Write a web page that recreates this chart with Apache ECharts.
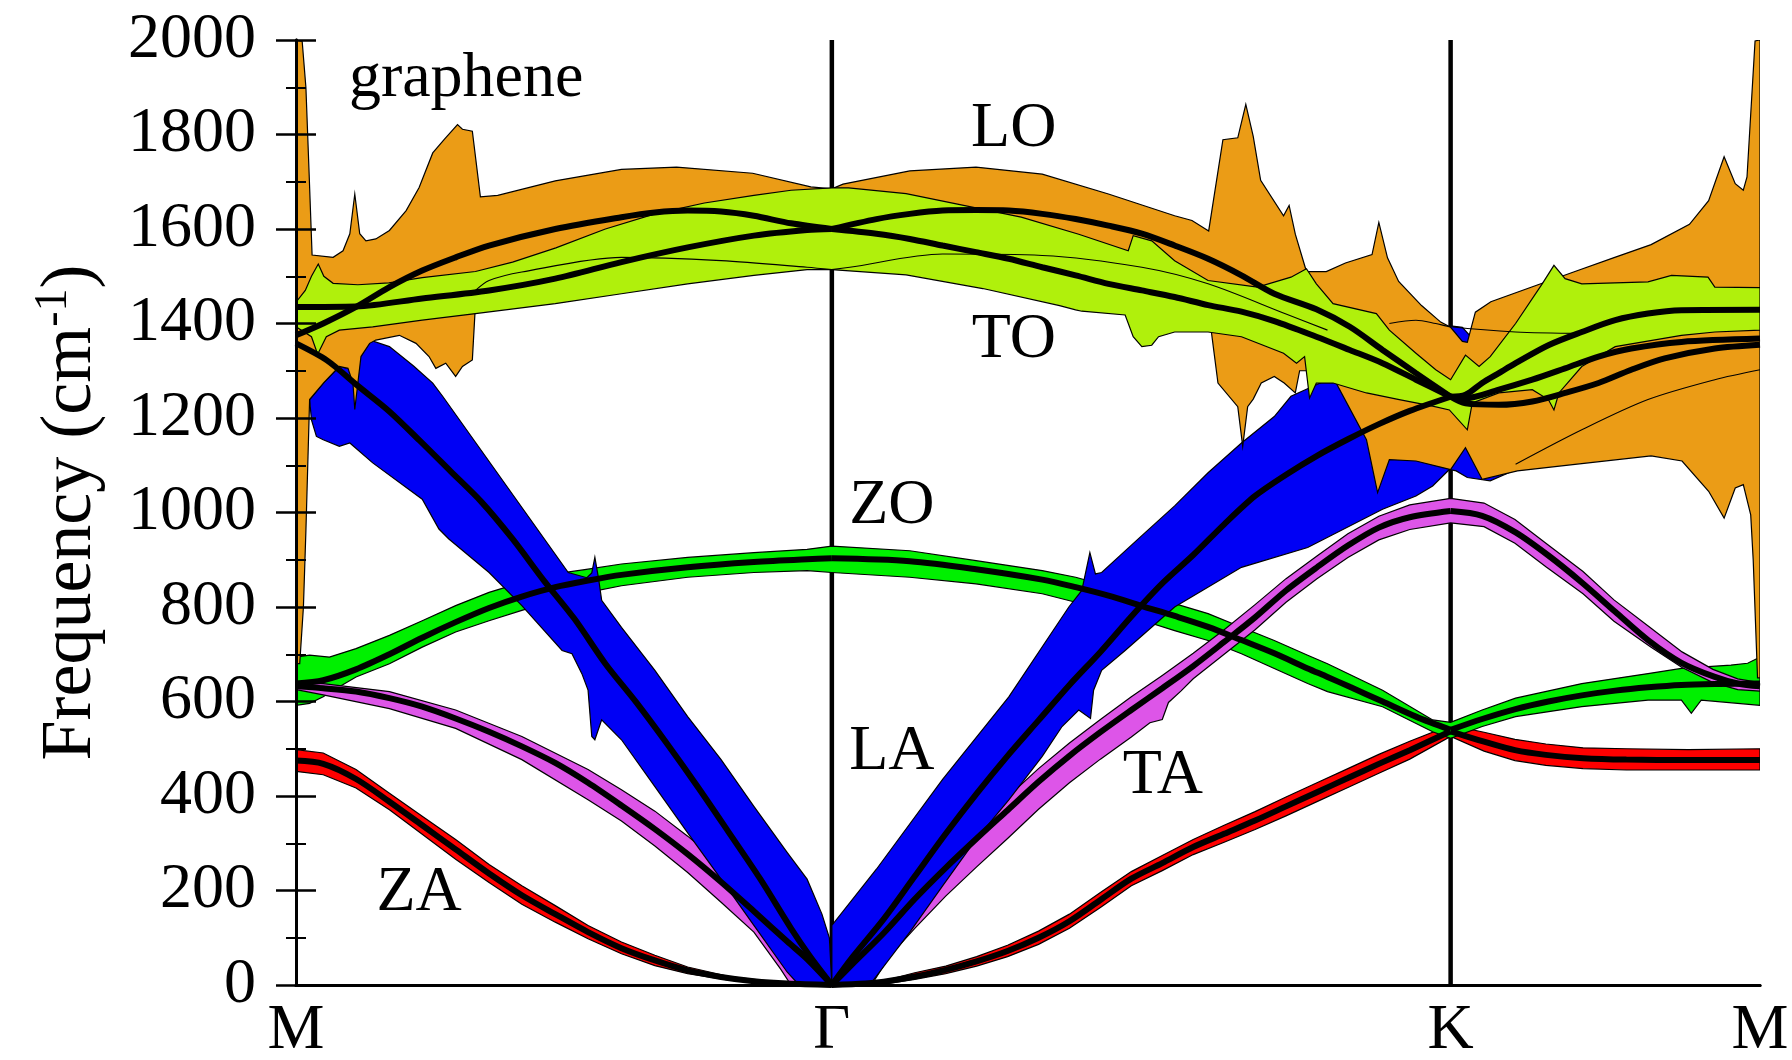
<!DOCTYPE html>
<html>
<head>
<meta charset="utf-8">
<title>graphene phonon dispersion</title>
<script src="https://cdn.jsdelivr.net/npm/echarts@6/dist/echarts.min.js"></script>
<style>
  html, body { margin: 0; padding: 0; background: #ffffff; }
  #chart { width: 1792px; height: 1060px; }
</style>
</head>
<body>
<div id="chart"></div>
<script>
// Path M–Γ–K–M, k measured along the path with |ΓK| = 1
const kPoints = [0, 0.866, 1.866, 2.366];
const kLabels = ['M', 'Γ', 'K', 'M'];
const freqMin = 0;
const freqMax = 2000;
const freqStep = 200;

// ---- dispersion branches (black curves), split at Γ and K ----
const ZA_MG = [[0,475],[0.044,468],[0.097,436],[0.151,388],[0.204,338],[0.258,287],[0.312,236],[0.365,190],[0.419,150],[0.472,112],[0.526,78],[0.580,52],[0.633,31],[0.687,17],[0.740,8],[0.794,3],[0.866,0]];
const ZA_GK = [[0.866,0],[0.92,3],[0.95,7],[1.0,18],[1.05,32],[1.1,50],[1.15,72],[1.2,100],[1.25,135],[1.3,180],[1.35,225],[1.4,258],[1.45,292],[1.5,320],[1.55,348],[1.6,378],[1.65,408],[1.7,438],[1.75,468],[1.8,497],[1.866,537]];
const ZA_KM = [[1.866,537],[1.92,515],[1.97,497],[2.02,487],[2.08,480],[2.15,477],[2.25,476],[2.366,476]];

const TA_MG = [[0,632],[0.044,628],[0.097,621],[0.151,607],[0.204,589],[0.258,564],[0.312,536],[0.365,505],[0.419,470],[0.472,428],[0.526,380],[0.580,330],[0.633,277],[0.687,218],[0.740,156],[0.794,92],[0.826,55],[0.866,0]];
const TA_GK = [[0.866,0],[0.90,45],[0.95,110],[1.0,182],[1.05,248],[1.10,310],[1.15,370],[1.20,430],[1.25,485],[1.30,535],[1.35,582],[1.40,628],[1.45,675],[1.50,726],[1.55,778],[1.60,835],[1.65,884],[1.70,930],[1.75,968],[1.80,990],[1.866,1003]];
const TA_KM = [[1.866,1003],[1.917,993],[1.971,958],[2.024,909],[2.078,852],[2.132,790],[2.185,730],[2.239,682],[2.293,652],[2.33,638],[2.366,632]];

const LA_MG = [[0,1358],[0.05,1322],[0.10,1268],[0.15,1215],[0.20,1152],[0.25,1087],[0.30,1022],[0.35,944],[0.40,857],[0.45,775],[0.50,680],[0.55,598],[0.60,510],[0.65,418],[0.70,322],[0.75,225],[0.80,120],[0.83,62],[0.866,0]];
const LA_GK = [[0.866,0],[0.90,60],[0.95,140],[1.0,230],[1.05,320],[1.10,405],[1.15,485],[1.20,560],[1.25,635],[1.30,705],[1.35,780],[1.40,850],[1.45,910],[1.50,975],[1.55,1035],[1.60,1080],[1.65,1120],[1.70,1155],[1.75,1187],[1.80,1215],[1.866,1245]];
const LA_KM = [[1.866,1245],[1.890,1231],[1.944,1228],[1.998,1235],[2.051,1253],[2.105,1274],[2.158,1302],[2.212,1326],[2.293,1347],[2.366,1355]];

const ZO_MG = [[0,638],[0.044,645],[0.097,668],[0.151,700],[0.204,735],[0.258,768],[0.312,798],[0.365,822],[0.419,842],[0.472,856],[0.526,868],[0.633,884],[0.740,895],[0.826,901],[0.866,903]];
const ZO_GK = [[0.866,903],[0.992,897],[1.099,880],[1.206,858],[1.260,842],[1.313,824],[1.367,802],[1.420,781],[1.474,758],[1.528,730],[1.581,702],[1.635,670],[1.667,652],[1.703,631],[1.756,600],[1.810,568],[1.866,540]];
const ZO_KM = [[1.866,540],[1.917,563],[1.971,584],[2.024,600],[2.078,613],[2.132,623],[2.185,630],[2.239,635],[2.30,637],[2.366,638]];

const TO_MG = [[0,1435],[0.097,1436],[0.204,1453],[0.312,1470],[0.419,1495],[0.526,1530],[0.633,1561],[0.740,1586],[0.826,1598],[0.866,1600]];
const TO_GK = [[0.866,1600],[0.938,1590],[0.992,1579],[1.045,1565],[1.099,1551],[1.152,1537],[1.206,1519],[1.260,1502],[1.313,1484],[1.367,1470],[1.420,1456],[1.474,1439],[1.528,1425],[1.581,1405],[1.649,1372],[1.703,1344],[1.756,1316],[1.810,1281],[1.866,1245]];
const TO_KM = [[1.866,1245],[1.890,1249],[1.917,1274],[1.944,1295],[1.971,1316],[2.024,1354],[2.078,1382],[2.132,1407],[2.185,1421],[2.239,1428],[2.366,1429]];

const LO_MG = [[0,1375],[0.044,1400],[0.097,1435],[0.151,1477],[0.204,1512],[0.258,1540],[0.312,1565],[0.419,1600],[0.526,1625],[0.580,1635],[0.633,1639],[0.687,1637],[0.740,1628],[0.80,1612],[0.866,1600]];
const LO_GK = [[0.866,1600],[0.938,1621],[0.992,1632],[1.045,1639],[1.099,1640],[1.152,1639],[1.206,1632],[1.260,1621],[1.313,1607],[1.367,1590],[1.420,1565],[1.474,1537],[1.528,1502],[1.581,1463],[1.649,1430],[1.703,1393],[1.756,1344],[1.810,1295],[1.866,1245]];
const LO_KM = [[1.866,1245],[1.890,1242],[1.944,1260],[1.998,1281],[2.051,1305],[2.105,1330],[2.158,1347],[2.239,1361],[2.366,1368]];

// ---- linewidth bands: upper and lower edges ----
const ZA_band_upper = [[0,498],[0.044,491],[0.097,456],[0.151,406],[0.204,357],[0.258,308],[0.312,255],[0.365,210],[0.419,168],[0.472,126],[0.526,91],[0.580,63],[0.633,38],[0.70,18],[0.78,6],[0.866,0],[0.95,9],[1.0,26],[1.05,40],[1.1,60],[1.15,84],[1.2,114],[1.25,150],[1.3,196],[1.35,240],[1.4,274],[1.45,308],[1.5,338],[1.55,367],[1.6,398],[1.65,428],[1.7,458],[1.75,488],[1.8,516],[1.866,550],[1.92,535],[1.97,520],[2.02,510],[2.08,502],[2.15,500],[2.25,498],[2.366,500]];
const ZA_band_lower = [[0,452],[0.044,445],[0.097,417],[0.151,371],[0.204,319],[0.258,266],[0.312,217],[0.365,171],[0.419,133],[0.472,98],[0.526,66],[0.580,41],[0.633,24],[0.70,10],[0.78,2],[0.866,0],[0.95,2],[1.0,12],[1.05,24],[1.1,40],[1.15,60],[1.2,86],[1.25,120],[1.3,164],[1.35,210],[1.4,242],[1.45,276],[1.5,302],[1.55,329],[1.6,358],[1.65,388],[1.7,418],[1.75,448],[1.8,478],[1.866,526],[1.92,495],[1.97,475],[2.02,465],[2.08,458],[2.15,455],[2.25,455],[2.366,455]];

const TA_band_upper = [[0,640],[0.044,638],[0.151,621],[0.258,582],[0.365,526],[0.472,456],[0.526,413],[0.580,368],[0.633,315],[0.687,256],[0.740,192],[0.794,122],[0.83,60],[0.866,0],[0.90,62],[0.95,140],[1.0,210],[1.05,275],[1.10,338],[1.15,398],[1.20,458],[1.25,512],[1.30,562],[1.35,610],[1.40,655],[1.45,702],[1.50,752],[1.55,805],[1.60,860],[1.65,908],[1.70,955],[1.75,992],[1.80,1016],[1.866,1030],[1.92,1020],[1.97,985],[2.02,935],[2.08,875],[2.13,815],[2.19,755],[2.24,705],[2.29,668],[2.33,648],[2.366,640]];
const TA_band_lower = [[0,625],[0.044,614],[0.151,585],[0.258,543],[0.365,477],[0.472,392],[0.526,347],[0.580,294],[0.633,238],[0.687,175],[0.740,112],[0.783,34],[0.80,0],[0.93,0],[0.96,62],[1.0,120],[1.05,188],[1.10,250],[1.15,310],[1.20,372],[1.25,428],[1.30,478],[1.35,525],[1.38,555],[1.40,562],[1.41,598],[1.43,622],[1.45,648],[1.50,700],[1.55,752],[1.60,810],[1.65,860],[1.70,905],[1.75,942],[1.80,964],[1.866,978],[1.92,970],[1.97,935],[2.02,885],[2.08,828],[2.13,770],[2.19,715],[2.24,672],[2.29,640],[2.33,625],[2.366,622]];

const ZO_band_upper = [[0,694],[0.022,698],[0.054,694],[0.097,712],[0.151,740],[0.204,771],[0.258,803],[0.312,831],[0.365,852],[0.419,870],[0.472,880],[0.526,891],[0.633,905],[0.740,915],[0.826,922],[0.866,929],[0.992,919],[1.099,898],[1.206,877],[1.260,863],[1.367,824],[1.420,807],[1.474,786],[1.528,757],[1.581,729],[1.635,698],[1.667,680],[1.756,624],[1.837,561],[1.866,556],[1.917,582],[1.971,607],[2.078,638],[2.185,659],[2.239,670],[2.319,677],[2.346,681],[2.366,694]];
const ZO_band_lower = [[0,592],[0.022,596],[0.044,610],[0.070,631],[0.097,652],[0.151,680],[0.204,715],[0.258,747],[0.312,771],[0.365,793],[0.419,814],[0.472,831],[0.526,845],[0.633,863],[0.740,873],[0.826,877],[0.866,873],[0.992,863],[1.099,849],[1.206,828],[1.260,810],[1.367,772],[1.420,750],[1.474,729],[1.528,701],[1.581,670],[1.635,638],[1.667,621],[1.756,589],[1.837,536],[1.866,522],[1.917,547],[1.971,568],[2.078,589],[2.185,603],[2.239,603],[2.255,575],[2.271,603],[2.366,592]];

const LA_band_MG_right = [[0.022,1239],[0.045,1275],[0.070,1309],[0.084,1305],[0.100,1340],[0.119,1365],[0.151,1351],[0.190,1310],[0.221,1274],[0.237,1246],[0.440,873],[0.470,862],[0.478,872],[0.483,905],[0.489,860],[0.494,814],[0.526,757],[0.580,666],[0.633,568],[0.687,477],[0.740,378],[0.794,280],[0.826,224],[0.850,150],[0.862,100],[0.866,0]];
const LA_band_MG_left = [[0.022,1239],[0.025,1196],[0.033,1161],[0.044,1154],[0.070,1140],[0.087,1147],[0.124,1105],[0.204,1028],[0.231,965],[0.247,944],[0.312,873],[0.365,803],[0.430,708],[0.446,701],[0.462,659],[0.472,624],[0.478,526],[0.483,519],[0.494,561],[0.526,519],[0.580,420],[0.633,322],[0.687,224],[0.740,126],[0.794,27],[0.813,0],[0.866,0]];
const LA_band_GK_upper = [[0.866,0],[0.866,126],[0.938,245],[1.045,435],[1.152,610],[1.249,800],[1.270,835],[1.283,915],[1.292,870],[1.302,873],[1.367,951],[1.420,1014],[1.474,1084],[1.528,1147],[1.581,1203],[1.608,1246],[1.667,1281],[1.75,1330],[1.85,1385],[1.866,1395],[1.885,1392],[1.90,1370],[1.95,1200],[1.975,1095]];
const LA_band_GK_lower = [[0.866,0],[0.927,0],[0.992,112],[1.045,210],[1.099,308],[1.152,392],[1.206,484],[1.238,547],[1.265,582],[1.284,564],[1.289,624],[1.302,666],[1.340,708],[1.420,800],[1.528,884],[1.635,926],[1.756,1007],[1.810,1035],[1.837,1056],[1.864,1091],[1.875,1088],[1.893,1074],[1.93,1067],[1.96,1084],[1.975,1095]];

const LO_band_upper = [[0,2000],[0.010,1997],[0.016,1900],[0.021,1725],[0.026,1545],[0.060,1540],[0.076,1554],[0.087,1590],[0.095,1674],[0.103,1590],[0.113,1575],[0.129,1579],[0.151,1597],[0.178,1639],[0.199,1688],[0.221,1761],[0.24,1790],[0.261,1821],[0.269,1811],[0.285,1807],[0.298,1668],[0.326,1671],[0.419,1702],[0.526,1726],[0.615,1731],[0.738,1718],[0.832,1689],[0.866,1685],[0.884,1695],[0.992,1723],[1.099,1731],[1.206,1716],[1.313,1674],[1.420,1628],[1.448,1618],[1.475,1596],[1.498,1789],[1.522,1793],[1.535,1864],[1.547,1796],[1.559,1703],[1.596,1628],[1.605,1650],[1.615,1589],[1.633,1510],[1.665,1510],[1.696,1528],[1.739,1546],[1.750,1614],[1.764,1539],[1.782,1489],[1.819,1438],[1.850,1403],[1.866,1392],[1.885,1362],[1.893,1360],[1.906,1424],[1.931,1446],[2.005,1481],[2.067,1510],[2.129,1539],[2.190,1567],[2.252,1610],[2.283,1660],[2.308,1753],[2.326,1696],[2.339,1682],[2.345,1710],[2.358,1998],[2.366,2000]];
const LO_band_lower = [[0,680],[0.006,680],[0.012,800],[0.016,961],[0.019,1100],[0.022,1239],[0.045,1275],[0.070,1309],[0.084,1305],[0.092,1274],[0.095,1218],[0.100,1274],[0.105,1330],[0.119,1358],[0.129,1365],[0.167,1375],[0.194,1358],[0.215,1330],[0.226,1305],[0.242,1316],[0.258,1288],[0.269,1309],[0.285,1323],[0.290,1440],[0.35,1452],[0.5,1478],[0.7,1510],[0.866,1530],[1.0,1520],[1.2,1480],[1.35,1460],[1.42,1450],[1.47,1440],[1.479,1386],[1.490,1274],[1.522,1224],[1.530,1140],[1.538,1224],[1.547,1240],[1.560,1274],[1.581,1288],[1.597,1274],[1.615,1253],[1.622,1300],[1.681,1300],[1.681,1274],[1.730,1154],[1.748,1042],[1.767,1112],[1.810,1109],[1.853,1095],[1.866,1091],[1.890,1137],[1.917,1070],[1.974,1088],[2.067,1102],[2.190,1120],[2.240,1109],[2.283,1045],[2.308,988],[2.326,1052],[2.339,1059],[2.351,995],[2.355,900],[2.362,650],[2.366,650]];

const TO_band_upper = [[0,1445],[0.015,1470],[0.025,1500],[0.036,1526],[0.045,1500],[0.060,1485],[0.10,1482],[0.15,1486],[0.204,1497],[0.29,1510],[0.35,1530],[0.42,1560],[0.50,1600],[0.58,1632],[0.66,1655],[0.74,1671],[0.80,1682],[0.866,1687],[0.893,1687],[0.986,1675],[1.079,1650],[1.172,1625],[1.265,1589],[1.345,1554],[1.353,1586],[1.383,1575],[1.420,1533],[1.474,1491],[1.554,1477],[1.608,1498],[1.633,1516],[1.649,1484],[1.676,1442],[1.746,1421],[1.767,1386],[1.810,1337],[1.842,1302],[1.866,1281],[1.890,1333],[1.912,1309],[1.93,1330],[1.971,1400],[2.014,1484],[2.033,1523],[2.051,1495],[2.078,1484],[2.185,1488],[2.223,1502],[2.282,1498],[2.293,1477],[2.366,1476]];
const TO_band_lower = [[0,1393],[0.025,1372],[0.035,1335],[0.049,1372],[0.070,1386],[0.124,1393],[0.204,1407],[0.290,1421],[0.419,1442],[0.526,1463],[0.633,1484],[0.740,1502],[0.826,1514],[0.866,1514],[0.986,1503],[1.110,1474],[1.234,1438],[1.260,1429],[1.270,1426],[1.340,1418],[1.353,1372],[1.367,1351],[1.383,1354],[1.394,1372],[1.420,1382],[1.474,1382],[1.528,1372],[1.596,1337],[1.617,1316],[1.630,1330],[1.638,1242],[1.649,1274],[1.676,1274],[1.730,1253],[1.783,1239],[1.837,1225],[1.864,1217],[1.893,1175],[1.901,1232],[1.944,1253],[1.998,1260],[2.024,1239],[2.033,1217],[2.041,1253],[2.078,1309],[2.132,1351],[2.239,1375],[2.293,1382],[2.366,1386]];

// thin boundary traces running through the optical bands
const edge_MG_TO = [[0.290,1470],[0.312,1491],[0.365,1509],[0.526,1540],[0.687,1533],[0.826,1519],[0.866,1514]];
const edge_GK_TO = [[0.866,1514],[0.895,1519],[1.045,1547],[1.206,1544],[1.367,1519],[1.474,1484],[1.60,1420],[1.667,1386]];
const edge_K_flat = [[1.767,1400],[1.810,1407],[1.842,1400],[1.866,1393],[1.971,1382],[2.078,1379]];
const edge_KM_LO = [[1.971,1102],[2.078,1175],[2.185,1239],[2.293,1281],[2.366,1302]];

// mode labels: [k, frequency] at the centre of each text
const modeLabels = [
  { name: 'graphene', value: [0.275, 1918] },
  { name: 'LO', value: [1.160, 1811] },
  { name: 'TO', value: [1.160, 1364] },
  { name: 'ZO', value: [0.963, 1013] },
  { name: 'LA', value: [0.963, 493] },
  { name: 'TA', value: [1.401, 442] },
  { name: 'ZA', value: [0.199, 194] }
];

const colors = {
  ZA: '#ff0000',
  TA: '#dd55e8',
  ZO: '#00f000',
  LA: '#0000f5',
  LO: '#eb9c16',
  TO: '#b0f00c'
};

const FONT = '"Liberation Serif", "Times New Roman", serif';

function band(name, upper, lower, color) {
  const outline = upper.concat(lower.slice().reverse());
  return {
    name: name,
    type: 'custom',
    coordinateSystem: 'cartesian2d',
    data: [outline[0]],
    clip: true,
    silent: true,
    animation: false,
    z: 2,
    renderItem: function (params, api) {
      return {
        type: 'polygon',
        shape: { points: outline.map(function (p) { return api.coord(p); }) },
        style: { fill: color, stroke: '#000', lineWidth: 1.2 }
      };
    }
  };
}

function branch(name, data) {
  return {
    name: name,
    type: 'line',
    data: data,
    symbol: 'none',
    smooth: 0.3,
    lineStyle: { color: '#000', width: 6 },
    silent: true,
    animation: false,
    z: 4
  };
}

function thinEdge(data) {
  return {
    type: 'line',
    data: data,
    symbol: 'none',
    smooth: 0.3,
    lineStyle: { color: '#000', width: 1.1 },
    silent: true,
    animation: false,
    z: 3
  };
}

function vertical(k) {
  return {
    type: 'line',
    data: [[k, freqMin], [k, freqMax]],
    symbol: 'none',
    lineStyle: { color: '#000', width: 4.5 },
    silent: true,
    animation: false,
    z: 1
  };
}

const chart = echarts.init(document.getElementById('chart'), null, { renderer: 'canvas' });

const option = {
  backgroundColor: '#ffffff',
  animation: false,
  grid: { left: 296, right: 32, top: 40, bottom: 75, outerBoundsMode: 'none' },
  xAxis: [
    {
      type: 'value',
      min: kPoints[0],
      max: kPoints[3],
      axisLine: { show: true, onZero: false, lineStyle: { color: '#000', width: 3 } },
      axisTick: { show: false },
      splitLine: { show: false },
      axisLabel: {
        customValues: kPoints,
        margin: 14,
        color: '#000',
        fontFamily: FONT,
        fontSize: 64,
        formatter: function (v) {
          const i = kPoints.findIndex(function (p) { return Math.abs(p - v) < 1e-6; });
          return i >= 0 ? kLabels[i] : '';
        }
      },
      z: 10
    },
    {
      type: 'value',
      position: 'top',
      min: kPoints[0],
      max: kPoints[3],
      axisLine: { show: true, lineStyle: { color: '#000', width: 3 } },
      axisTick: { show: false },
      axisLabel: { show: false },
      splitLine: { show: false },
      z: 10
    }
  ],
  yAxis: [
    {
      type: 'value',
      min: freqMin,
      max: freqMax,
      interval: freqStep,
      name: '{a|Frequency (cm}{s|-1}{a|)}',
      nameLocation: 'middle',
      nameGap: 185,
      nameRotate: 90,
      nameTextStyle: {
        rich: {
          a: { fontFamily: FONT, fontSize: 72, color: '#000', lineHeight: 80 },
          s: { fontFamily: FONT, fontSize: 46, color: '#000', verticalAlign: 'top', lineHeight: 80 }
        }
      },
      axisLine: { show: true, lineStyle: { color: '#000', width: 3 } },
      axisTick: { show: true, inside: true, length: 20, lineStyle: { color: '#000', width: 2.5 } },
      minorTick: { show: true, splitNumber: 2, length: 10, lineStyle: { color: '#000', width: 2 } },
      splitLine: { show: false },
      axisLabel: {
        margin: 40, color: '#000', fontFamily: FONT, fontSize: 64,
        formatter: function (v) { return String(v); }
      },
      z: 10
    },
    {
      type: 'value',
      position: 'right',
      min: freqMin,
      max: freqMax,
      interval: freqStep,
      axisLine: { show: true, lineStyle: { color: '#000', width: 3 } },
      axisTick: { show: true, inside: true, length: 20, lineStyle: { color: '#000', width: 2.5 } },
      minorTick: { show: true, splitNumber: 2, length: 10, lineStyle: { color: '#000', width: 2 } },
      splitLine: { show: false },
      axisLabel: { show: false },
      z: 10
    }
  ],
  series: [
    vertical(kPoints[1]),
    vertical(kPoints[2]),
    band('ZA band', ZA_band_upper, ZA_band_lower, colors.ZA),
    band('ZO band', ZO_band_upper, ZO_band_lower, colors.ZO),
    band('TA band', TA_band_upper, TA_band_lower, colors.TA),
    band('LA band M-Γ', LA_band_MG_right, LA_band_MG_left, colors.LA),
    band('LA band Γ-K', LA_band_GK_upper, LA_band_GK_lower, colors.LA),
    band('LO band', LO_band_upper, LO_band_lower, colors.LO),
    band('TO band', TO_band_upper, TO_band_lower, colors.TO),
    thinEdge(edge_MG_TO), thinEdge(edge_GK_TO), thinEdge(edge_K_flat), thinEdge(edge_KM_LO),
    branch('ZA', ZA_MG), branch('ZA', ZA_GK), branch('ZA', ZA_KM),
    branch('TA', TA_MG), branch('TA', TA_GK), branch('TA', TA_KM),
    branch('LA', LA_MG), branch('LA', LA_GK), branch('LA', LA_KM),
    branch('ZO', ZO_MG), branch('ZO', ZO_GK), branch('ZO', ZO_KM),
    branch('TO', TO_MG), branch('TO', TO_GK), branch('TO', TO_KM),
    branch('LO', LO_MG), branch('LO', LO_GK), branch('LO', LO_KM),
    {
      name: 'labels',
      type: 'scatter',
      data: modeLabels,
      symbolSize: 1,
      itemStyle: { color: 'rgba(0,0,0,0)', opacity: 1 },
      silent: true,
      animation: false,
      z: 6,
      labelLayout: { hideOverlap: false },
      label: {
        show: true,
        position: 'inside',
        formatter: function (p) { return p.name; },
        color: '#000',
        opacity: 1,
        textBorderWidth: 0,
        fontFamily: FONT,
        fontSize: 64
      }
    }
  ]
};

chart.setOption(option);
</script>
</body>
</html>
